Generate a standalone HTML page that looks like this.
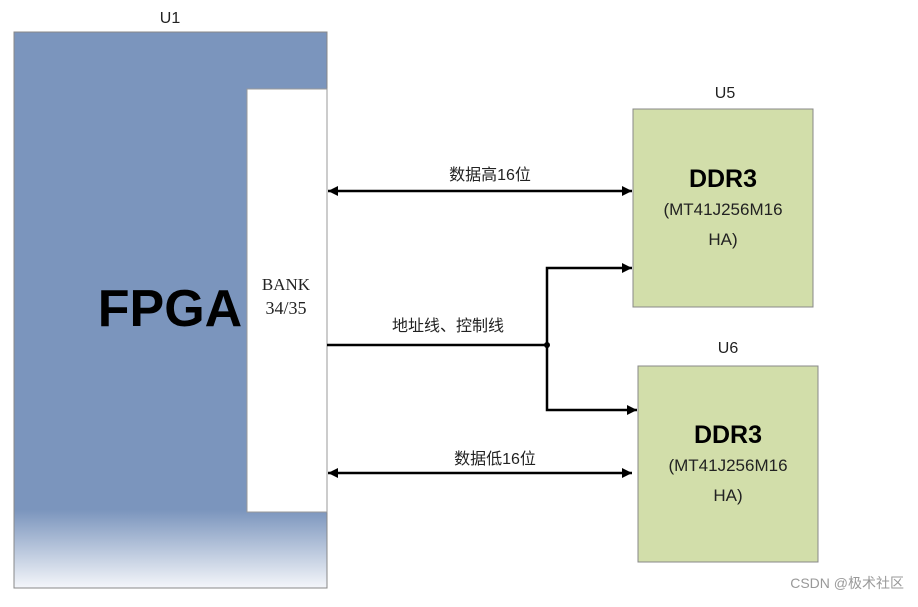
<!DOCTYPE html>
<html><head><meta charset="utf-8"><style>
body{margin:0;width:918px;height:602px;background:#fff;overflow:hidden}
</style></head><body>
<svg width="918" height="602" xmlns="http://www.w3.org/2000/svg" style="font-family:'Liberation Sans','Noto Sans CJK SC',sans-serif">
<defs>
<linearGradient id="g" x1="0" y1="0" x2="0" y2="1">
<stop offset="0" stop-color="#7b95bd"/><stop offset="0.86" stop-color="#7b95bd"/><stop offset="1" stop-color="#f4f6fa"/>
</linearGradient>
<marker id="a" viewBox="0 0 10 10" refX="10" refY="5" markerWidth="14" markerHeight="10" markerUnits="userSpaceOnUse" orient="auto-start-reverse"><path d="M0 0L10 5L0 10z" fill="#000"/></marker>
</defs>
<text x="170" y="23" font-size="16" text-anchor="middle" fill="#222">U1</text>
<rect x="14" y="32" width="313" height="556" fill="url(#g)" stroke="#888" stroke-width="1"/>
<rect x="247" y="89" width="80" height="423" fill="#fff" stroke="#999" stroke-width="1"/>
<text x="170" y="326" font-size="52" font-weight="bold" text-anchor="middle" fill="#000">FPGA</text>
<text x="286" y="290" font-size="17" text-anchor="middle" font-family="Liberation Serif,serif" fill="#222">BANK</text>
<text x="286" y="314" font-size="18" text-anchor="middle" font-family="Liberation Serif,serif" fill="#222">34/35</text>
<text x="725" y="98" font-size="16" text-anchor="middle" fill="#222">U5</text>
<rect x="633" y="109" width="180" height="198" fill="#d2deaa" stroke="#888"/>
<text x="723" y="187" font-size="25" font-weight="bold" text-anchor="middle">DDR3</text>
<text x="723" y="215" font-size="17" text-anchor="middle" fill="#222">(MT41J256M16</text>
<text x="723" y="245" font-size="17" text-anchor="middle" fill="#222">HA)</text>
<text x="728" y="353" font-size="16" text-anchor="middle" fill="#222">U6</text>
<rect x="638" y="366" width="180" height="196" fill="#d2deaa" stroke="#888"/>
<text x="728" y="443" font-size="25" font-weight="bold" text-anchor="middle">DDR3</text>
<text x="728" y="471" font-size="17" text-anchor="middle" fill="#222">(MT41J256M16</text>
<text x="728" y="501" font-size="17" text-anchor="middle" fill="#222">HA)</text>
<line x1="328" y1="191" x2="632" y2="191" stroke="#000" stroke-width="2.5" marker-start="url(#a)" marker-end="url(#a)"/>
<text x="490" y="180" font-size="16" text-anchor="middle" fill="#222">数据高16位</text>
<line x1="327" y1="345" x2="547" y2="345" stroke="#000" stroke-width="2.5"/>
<path d="M632 268H547V410H637" fill="none" stroke="#000" stroke-width="2.5" marker-start="url(#a)" marker-end="url(#a)"/>
<circle cx="547" cy="345" r="3" fill="#000"/>
<text x="448" y="331" font-size="16" text-anchor="middle" fill="#222">地址线、控制线</text>
<line x1="328" y1="473" x2="632" y2="473" stroke="#000" stroke-width="2.5" marker-start="url(#a)" marker-end="url(#a)"/>
<text x="495" y="464" font-size="16" text-anchor="middle" fill="#222">数据低16位</text>
<text x="904" y="588" font-size="14" text-anchor="end" fill="#999">CSDN @极术社区</text>
</svg>
</body></html>
